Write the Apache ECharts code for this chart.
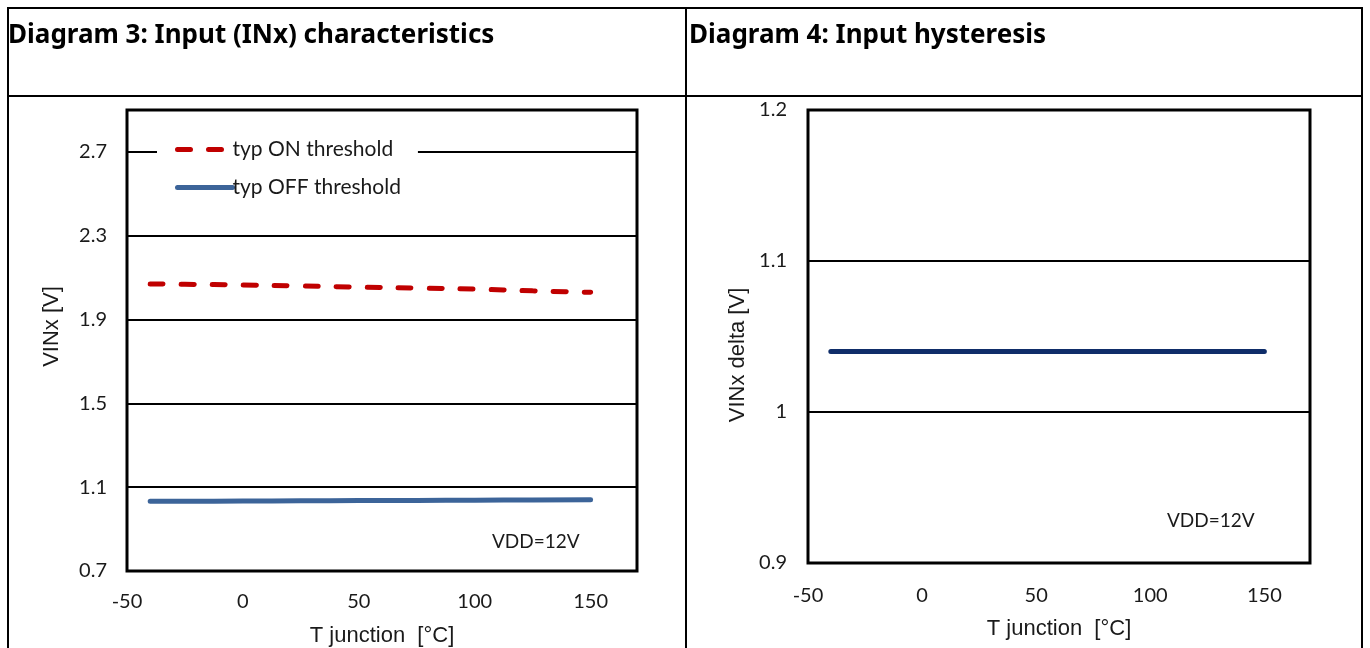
<!DOCTYPE html>
<html>
<head>
<meta charset="utf-8">
<script src="https://cdn.jsdelivr.net/npm/echarts@6/dist/echarts.min.js"></script>
<style>
html,body{margin:0;padding:0;background:#fff;}
#c{width:1370px;height:648px;}
</style>
</head>
<body>
<div id="c"></div>
<script>
// ---- data ----
const tempC = [-40, -25, 0, 25, 50, 75, 100, 125, 150];
const onThreshold = [2.07, 2.068, 2.065, 2.06, 2.055, 2.05, 2.045, 2.037, 2.03];
const offThreshold = [1.033, 1.033, 1.034, 1.035, 1.036, 1.037, 1.038, 1.039, 1.04];
const hystTemp = [-40, 0, 50, 100, 150];
const hysteresis = [1.04, 1.04, 1.04, 1.04, 1.04];
const xTicks = [-50, 0, 50, 100, 150];
const yTicks3 = [0.7, 1.1, 1.5, 1.9, 2.3, 2.7];
const yTicks4 = [0.9, 1.0, 1.1, 1.2];
const seriesNames = ['typ ON threshold', 'typ OFF threshold'];
const titles = ['Diagram 3: Input (INx) characteristics', 'Diagram 4: Input hysteresis'];
const noteText = 'VDD=12V';

const zip = (xs, ys) => xs.map((x, i) => [x, ys[i]]);
const tickFont = 'Lato, "Noto Sans", sans-serif';
const nameFont = '"Liberation Sans", Arial, sans-serif';
const ink = '#1a1a1a';

const chart = echarts.init(document.getElementById('c'), null, {renderer: 'canvas'});

const baseX = (gi, nameGap, margin) => ({
  type: 'value', gridIndex: gi, min: -50, max: 170, interval: 50,
  name: 'T junction  [°C]', nameLocation: 'middle', nameGap: nameGap,
  nameTextStyle: {fontFamily: nameFont, fontSize: 22, color: ink},
  axisLine: {show: false}, axisTick: {show: false}, splitLine: {show: false},
  axisLabel: {fontFamily: tickFont, fontSize: 20, color: ink, margin: margin,
    formatter: v => (xTicks.indexOf(v) >= 0 ? String(v) : '')}
});

const titleStyle = {fontFamily: '"Noto Sans", sans-serif', fontWeight: 'bold', fontSize: 26, color: '#000'};

const option = {
  animation: false,
  backgroundColor: '#fff',
  title: [
    {text: titles[0], left: 8, top: 23, padding: 0, textStyle: titleStyle},
    {text: titles[1], left: 689, top: 23, padding: 0, textStyle: titleStyle}
  ],
  grid: [
    {left: 127, top: 110, width: 510, height: 461, outerBoundsMode: 'none', containLabel: false,
     show: true, borderColor: '#000', borderWidth: 3, backgroundColor: 'transparent'},
    {left: 808, top: 110, width: 502, height: 453, outerBoundsMode: 'none', containLabel: false,
     show: true, borderColor: '#000', borderWidth: 3, backgroundColor: 'transparent'}
  ],
  xAxis: [baseX(0, 54, 21), baseX(1, 55, 23)],
  yAxis: [
    {type: 'value', gridIndex: 0, min: yTicks3[0], max: 2.9, interval: 0.4,
     name: 'VINx [V]', nameLocation: 'middle', nameGap: 64,
     nameTextStyle: {fontFamily: nameFont, fontSize: 22, color: ink, padding: [0, 0, 0, 28]},
     axisLine: {show: false}, axisTick: {show: false},
     splitLine: {show: true, lineStyle: {color: '#000', width: 2}},
     axisLabel: {fontFamily: tickFont, fontSize: 20, color: ink, margin: 20,
       formatter: v => (v > 2.8 ? '' : v.toFixed(1))}},
    {type: 'value', gridIndex: 1, min: yTicks4[0], max: yTicks4[3], interval: 0.1,
     name: 'VINx delta [V]', nameLocation: 'middle', nameGap: 59,
     nameTextStyle: {fontFamily: nameFont, fontSize: 22, color: ink, padding: [0, 37, 0, 0]},
     axisLine: {show: false}, axisTick: {show: false},
     splitLine: {show: true, lineStyle: {color: '#000', width: 2}},
     axisLabel: {fontFamily: tickFont, fontSize: 20, color: ink, margin: 21,
       formatter: v => String(Math.round(v * 10) / 10)}}
  ],
  legend: {
    data: seriesNames, orient: 'vertical', left: 157, top: 136,
    backgroundColor: '#fff', padding: [3, 17, 3, 18], itemGap: 17,
    itemWidth: 55, itemHeight: 14,
    itemStyle: {opacity: 0},
    lineStyle: {width: 5, cap: 'round'},
    textStyle: {fontFamily: tickFont, fontSize: 21, color: ink, padding: [0, 0, 0, -5]}
  },
  series: [
    {name: seriesNames[0], type: 'line', xAxisIndex: 0, yAxisIndex: 0, data: zip(tempC, onThreshold),
     showSymbol: false, symbol: 'none', smooth: true, z: 3,
     lineStyle: {color: '#C00000', width: 5, type: [13, 18], cap: 'round'},
     itemStyle: {color: '#C00000'}},
    {name: seriesNames[1], type: 'line', xAxisIndex: 0, yAxisIndex: 0, data: zip(tempC, offThreshold),
     showSymbol: false, symbol: 'none', smooth: true, z: 3,
     lineStyle: {color: '#3C6499', width: 5, cap: 'round'},
     itemStyle: {color: '#3C6499'}},
    {name: 'hysteresis', type: 'line', xAxisIndex: 1, yAxisIndex: 1, data: zip(hystTemp, hysteresis),
     showSymbol: false, symbol: 'none', z: 3,
     lineStyle: {color: '#0F2D69', width: 5, cap: 'round'},
     itemStyle: {color: '#0F2D69'}}
  ],
  graphic: [
    {type: 'line', shape: {x1: 8, y1: 8, x2: 1363, y2: 8}, style: {stroke: '#000', lineWidth: 2}},
    {type: 'line', shape: {x1: 8, y1: 96, x2: 1363, y2: 96}, style: {stroke: '#000', lineWidth: 2}},
    {type: 'line', shape: {x1: 8, y1: 7, x2: 8, y2: 648}, style: {stroke: '#000', lineWidth: 2}},
    {type: 'line', shape: {x1: 686, y1: 7, x2: 686, y2: 648}, style: {stroke: '#000', lineWidth: 2}},
    {type: 'line', shape: {x1: 1362, y1: 7, x2: 1362, y2: 648}, style: {stroke: '#000', lineWidth: 2}},
    {type: 'text', left: 492, top: 532, style: {text: noteText, font: '19px Lato, "Noto Sans", sans-serif', fill: ink}},
    {type: 'text', left: 1167, top: 511, style: {text: noteText, font: '19px Lato, "Noto Sans", sans-serif', fill: ink}}
  ]
};
chart.setOption(option);
</script>
</body>
</html>
